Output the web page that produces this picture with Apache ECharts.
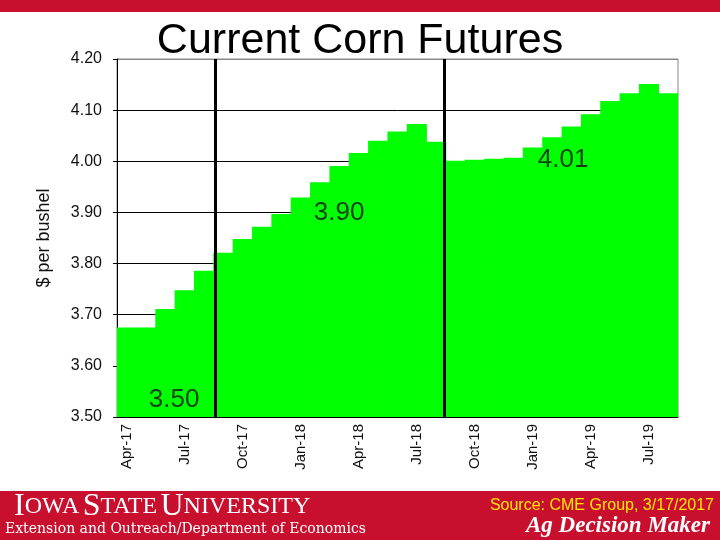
<!DOCTYPE html>
<html>
<head>
<meta charset="utf-8">
<title>Current Corn Futures</title>
<script src="https://cdn.jsdelivr.net/npm/echarts@6/dist/echarts.min.js"></script>
<style>
  html, body { margin: 0; padding: 0; background: #fff; }
  #chart { width: 720px; height: 540px; }
</style>
</head>
<body>
<div id="chart"></div>
<script>
// contract months on the x axis
const months = [
  "Apr-17", "May-17", "Jun-17", "Jul-17", "Aug-17", "Sep-17", "Oct-17", "Nov-17", "Dec-17",
  "Jan-18", "Feb-18", "Mar-18", "Apr-18", "May-18", "Jun-18", "Jul-18", "Aug-18", "Sep-18",
  "Oct-18", "Nov-18", "Dec-18", "Jan-19", "Feb-19", "Mar-19", "Apr-19", "May-19", "Jun-19",
  "Jul-19", "Aug-19"
];
// futures price, $ per bushel
const prices = [
  3.675, 3.675, 3.711, 3.748, 3.786, 3.821, 3.848, 3.872, 3.897,
  3.929, 3.959, 3.991, 4.016, 4.040, 4.058, 4.073, 4.038, 4.001,
  4.003, 4.005, 4.007, 4.027, 4.047, 4.068, 4.092, 4.118, 4.133,
  4.151, 4.133
];
// months that carry a tick mark on the x axis (the original skips a few)
const tickMonths = ["Apr-17", "Jul-17", "Jan-18", "Apr-18", "Oct-18", "Jan-19", "Jul-19"];
// crop year dividers (month position)
const dividers = [5.1, 16.9];
// price call-outs: [month position, price, text]
const callouts = [
  [2.95, 3.533, "3.50"],
  [11.48, 3.899, "3.90"],
  [23.06, 4.0025, "4.01"]
];
const yTicks = [3.5, 4.2, 0.1];

const red = "#c8102e";
const serif = "'Liberation Serif', 'Times New Roman', serif";
const chart = echarts.init(document.getElementById("chart"));

chart.setOption({
  animation: false,
  textStyle: { fontFamily: "Arial, 'Liberation Sans', sans-serif" },
  title: {
    text: "Current Corn Futures",
    left: "center",
    top: 15,
    textStyle: { fontSize: 43, fontWeight: "normal", color: "#000" }
  },
  grid: {
    left: 117, right: 42, top: 59, bottom: 123,
    show: true, borderColor: "#888", borderWidth: 1
  },
  xAxis: [
    {
      type: "category",
      data: months,
      boundaryGap: true,
      axisLine: { lineStyle: { color: "#000" } },
      axisTick: {
        interval: (i, name) => tickMonths.includes(name),
        length: 5,
        lineStyle: { color: "#000" }
      },
      axisLabel: { interval: 2, rotate: 90, fontSize: 15, color: "#111", margin: 7 }
    },
    { type: "value", min: 0, max: months.length, show: false }
  ],
  yAxis: {
    type: "value",
    min: yTicks[0], max: yTicks[1], interval: yTicks[2],
    name: "$ per bushel",
    nameLocation: "middle",
    nameRotate: 90,
    nameGap: 64,
    nameTextStyle: { fontSize: 18, color: "#111" },
    axisLine: { show: true, lineStyle: { color: "#000" } },
    axisTick: { show: true, length: 4, lineStyle: { color: "#000" } },
    axisLabel: { fontSize: 16, color: "#111", margin: 15, formatter: v => v.toFixed(2) },
    splitLine: {
      lineStyle: { color: ["#000", "#000", "#000", "#000", "#000", "#000", "#000", "#888"], width: 1 }
    }
  },
  series: [
    {
      type: "bar",
      data: prices,
      barCategoryGap: "-4%",
      itemStyle: { color: "#00ff00" }
    },
    {
      type: "scatter",
      xAxisIndex: 1,
      symbolSize: 0,
      data: callouts.map(c => ({ value: [c[0], c[1]], name: c[2] })),
      label: {
        show: true,
        position: "inside",
        formatter: p => p.name,
        fontSize: 26,
        color: "#111"
      },
      markLine: {
        silent: true,
        symbol: "none",
        label: { show: false },
        lineStyle: { color: "#000", width: 3, type: "solid" },
        data: dividers.map(d => ({ xAxis: d }))
      },
      z: 5
    }
  ],
  graphic: [
    { type: "rect", left: 0, top: 0, shape: { width: 720, height: 12 }, style: { fill: red } },
    { type: "rect", left: 0, top: 491, shape: { width: 720, height: 49 }, style: { fill: red } },
    {
      type: "text", left: 14, top: 491,
      style: {
        text: "{b|I}{s|OWA} {b|S}{s|TATE} {b|U}{s|NIVERSITY}",
        rich: {
          b: { fontFamily: serif, fontSize: 32, fill: "#fff" },
          s: { fontFamily: serif, fontSize: 24, fill: "#fff" }
        }
      }
    },
    {
      type: "text", left: 5, top: 522,
      style: {
        text: "Extension and Outreach/Department of Economics",
        font: "14px 'DejaVu Serif', serif",
        fill: "#fff"
      }
    },
    {
      type: "text", right: 6, top: 498,
      style: {
        text: "Source: CME Group, 3/17/2017",
        font: "16px Arial, 'Liberation Sans', sans-serif",
        fill: "#ffe600"
      }
    },
    {
      type: "text", right: 10, top: 515,
      style: {
        text: "Ag Decision Maker",
        font: "italic bold 23px " + serif,
        fill: "#fff"
      }
    }
  ]
});
</script>
</body>
</html>
